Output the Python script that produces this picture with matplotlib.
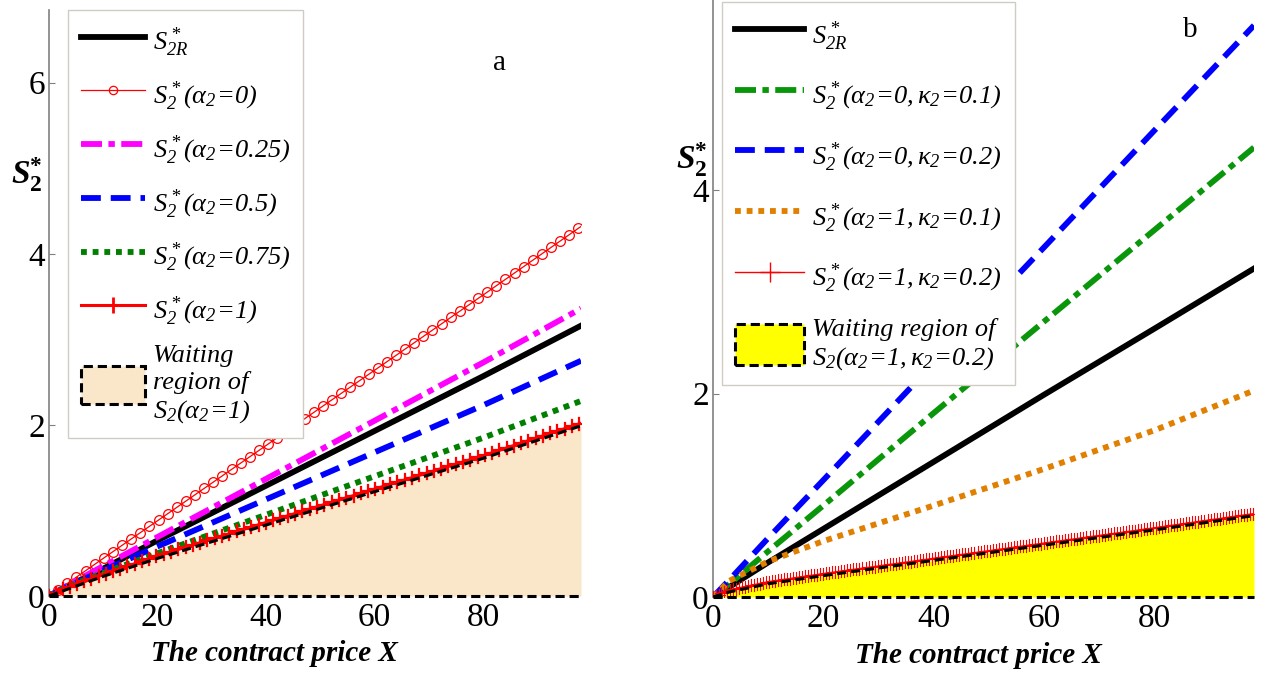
import numpy as np
import matplotlib
matplotlib.use("Agg")
import matplotlib.pyplot as plt
import matplotlib.patheffects as pe
from matplotlib.path import Path
from matplotlib.transforms import Affine2D, IdentityTransform
from matplotlib.lines import Line2D
from matplotlib.patches import Patch

plt.rcParams['font.family'] = ['Liberation Serif', 'DejaVu Serif']
plt.rcParams['mathtext.fontset'] = 'custom'
# legend maths is italic throughout (digits and brackets too)
plt.rcParams['mathtext.rm'] = 'Liberation Serif:italic'
plt.rcParams['mathtext.it'] = 'Liberation Serif:italic'
plt.rcParams['mathtext.bf'] = 'Liberation Serif:bold'
plt.rcParams['mathtext.bfit'] = 'Liberation Serif:bold:italic'

# ---- panel a data ----
x_a = [0, 3, 10, 20, 40, 60, 80, 98]
s2r_a = [0, 0.10, 0.32, 0.65, 1.29, 1.93, 2.57, 3.16]
alpha0_a = [0, 0.13, 0.44, 0.88, 1.76, 2.64, 3.52, 4.32]
alpha025_a = [0, 0.11, 0.35, 0.69, 1.37, 2.05, 2.73, 3.36]
alpha05_a = [0, 0.10, 0.30, 0.58, 1.13, 1.68, 2.23, 2.75]
alpha075_a = [0, 0.10, 0.27, 0.50, 0.95, 1.40, 1.85, 2.28]
alpha1_a = [0, 0.09, 0.25, 0.47, 0.86, 1.25, 1.64, 2.02]
wait_a = [0, 0.07, 0.23, 0.44, 0.83, 1.22, 1.61, 1.99]

# ---- panel b data ----
x_b = [0, 3, 10, 20, 40, 60, 80, 98]
s2r_b = [0, 0.10, 0.34, 0.67, 1.33, 1.99, 2.64, 3.23]
a0k01_b = [0, 0.13, 0.45, 0.90, 1.81, 2.71, 3.61, 4.42]
a0k02_b = [0, 0.17, 0.58, 1.15, 2.30, 3.44, 4.59, 5.62]
a1k01_b = [0, 0.16, 0.35, 0.55, 0.90, 1.26, 1.64, 2.03]
a1k02_b = [0, 0.07, 0.15, 0.23, 0.38, 0.53, 0.68, 0.82]
wait_b = [0, 0.05, 0.13, 0.21, 0.36, 0.51, 0.66, 0.80]

xticks = [0, 20, 40, 60, 80]


class MarkersAlong(pe.AbstractPathEffect):
    # draws markers at a fixed on-screen spacing along the drawn line
    def __init__(self, marker, spacing, size, color, lw):
        super().__init__()
        self.marker = marker
        self.spacing = spacing
        self.size = size
        self.color = color
        self.lw = lw

    def draw_path(self, renderer, gc, tpath, affine, rgbFace=None):
        xy = affine.transform(tpath.vertices)
        d = np.r_[0, np.cumsum(np.hypot(*np.diff(xy, axis=0).T))]
        step = renderer.points_to_pixels(self.spacing)
        s = np.arange(0, d[-1], step)
        pts = np.column_stack([np.interp(s, d, xy[:, 0]), np.interp(s, d, xy[:, 1])])
        gc0 = renderer.new_gc()
        gc0.copy_properties(gc)
        gc0.set_linewidth(self.lw)
        gc0.set_foreground(self.color)
        gc0.set_dashes(0, None)
        half = renderer.points_to_pixels(self.size) / 2
        renderer.draw_markers(gc0, self.marker, Affine2D().scale(half),
                              Path(pts), IdentityTransform(), None)
        gc0.restore()


circle = Path.unit_circle()
plus = Path([[-1, 0], [1, 0], [0, -1], [0, 1]], [1, 2, 1, 2])

fig = plt.figure(figsize=(12.61, 6.73), dpi=100)
ax1 = fig.add_axes([49 / 1261, 1 - 596 / 673, 532 / 1261, 586 / 673])
ax2 = fig.add_axes([713 / 1261, 1 - 597 / 673, 541 / 1261, 597 / 673])

GRAY = '#808080'
for ax in (ax1, ax2):
    for sp in ('top', 'right', 'bottom'):
        ax.spines[sp].set_visible(False)
    ax.spines['left'].set_color(GRAY)
    ax.spines['left'].set_linewidth(1.2)
    ax.tick_params(direction='in', length=4, color=GRAY, labelsize=24, width=0.8)
    ax.tick_params(axis='y', pad=3)
    ax.tick_params(axis='x', pad=5, length=0)
    ax.set_xticks(xticks)
    ax.set_xlim(0, 98)
    ax.set_xlabel('The contract price X', fontsize=21, fontweight='bold', style='italic')

# ---------------- panel a ----------------
ax1.set_ylim(0, 6.85)
ax1.set_yticks([0, 2, 4, 6])
ax1.fill_between(x_a, 0, wait_a, color='#FAE7CA', lw=0, zorder=1)
ax1.plot(x_a, s2r_a, color='black', lw=4.2, zorder=3)
ax1.plot(x_a, alpha0_a, color='red', lw=0.9, zorder=3,
         path_effects=[pe.Normal(), MarkersAlong(circle, 8.0, 7, 'red', 0.9)])
ax1.plot(x_a, alpha025_a, color='#FF00FF', lw=4.2, dashes=(3.6, 1.1, 1.1, 1.1), zorder=3)
ax1.plot(x_a, alpha05_a, color='#0000FF', lw=4.2, dashes=(3.4, 1.7), zorder=3)
ax1.plot(x_a, alpha075_a, color='#007F00', lw=4.2, dashes=(1, 1), dash_capstyle='butt', zorder=3)
ax1.plot(x_a, alpha1_a, color='red', lw=2.2, zorder=3,
         path_effects=[pe.Normal(), MarkersAlong(plus, 5.5, 9, 'red', 1.6)])
ax1.plot(x_a, wait_a, color='black', lw=2.2, dashes=(3, 1.6), zorder=4)
ax1.plot([x_a[0], x_a[-1]], [0, 0], color='black', lw=2.2, dashes=(3, 1.6), zorder=4, clip_on=False)
ax1.xaxis.set_label_coords(0.423, -0.075)

h1 = [
    Line2D([], [], color='black', lw=4.2),
    Line2D([], [], color='red', lw=0.9, marker='o', mfc='none', ms=6, mew=0.9),
    Line2D([], [], color='#FF00FF', lw=4.2, dashes=(3.6, 1.1, 1.1, 1.1)),
    Line2D([], [], color='#0000FF', lw=4.2, dashes=(3.4, 1.7)),
    Line2D([], [], color='#007F00', lw=4.2, dashes=(1, 1), dash_capstyle='butt'),
    Line2D([], [], color='red', lw=2.2, marker='+', ms=12, mew=2),
    Patch(facecolor='#FAE7CA', edgecolor='black', lw=2.2, linestyle=(0, (3, 1.6))),
]
l1 = [
    r'$S^*_{2R}$',
    r'$S^*_2(\alpha_2\!=\!0)$',
    r'$S^*_2(\alpha_2\!=\!0.25)$',
    r'$S^*_2(\alpha_2\!=\!0.5)$',
    r'$S^*_2(\alpha_2\!=\!0.75)$',
    r'$S^*_2(\alpha_2\!=\!1)$',
    'Waiting\nregion of\n' + r'$S_2(\alpha_2\!=\!1)$',
]
leg1 = ax1.legend(h1, l1, loc='upper left', bbox_to_anchor=(0.036, 1.0), borderaxespad=0,
                  prop={'family': 'Liberation Serif', 'style': 'italic', 'size': 19},
                  handlelength=2.4, handleheight=1.8, handletextpad=0.3, labelspacing=0.62,
                  fancybox=False, edgecolor='#D0CCC4', framealpha=1, borderpad=0.5, numpoints=1)
leg1.get_frame().set_linewidth(1.0)
ax1.text(499 / 1261, 1 - 63 / 673, 'a', transform=fig.transFigure, fontsize=21,
         ha='center', va='center', fontstyle='normal')

# ---------------- panel b ----------------
ax2.set_ylim(0, 5.87)
ax2.set_yticks([0, 2, 4])
ax2.fill_between(x_b, 0, wait_b, color='#FFFF00', lw=0, zorder=1)
ax2.plot(x_b, s2r_b, color='black', lw=4.2, zorder=3)
ax2.plot(x_b, a0k01_b, color='#0A960A', lw=4.2, dashes=(3.6, 1.1, 1.1, 1.1), zorder=3)
ax2.plot(x_b, a0k02_b, color='#0000FF', lw=4.2, dashes=(3.4, 1.7), zorder=3)
ax2.plot(x_b, a1k01_b, color='#E07F00', lw=4.2, dashes=(1, 1), dash_capstyle='butt', zorder=3)
ax2.plot(x_b, a1k02_b, color='red', lw=1.0, zorder=3,
         path_effects=[pe.Normal(), MarkersAlong(plus, 2.2, 9, 'red', 0.8)])
ax2.plot(x_b, wait_b, color='black', lw=2.2, dashes=(3, 1.6), zorder=4)
ax2.plot([x_b[0], x_b[-1]], [0, 0], color='black', lw=2.2, dashes=(3, 1.6), zorder=4, clip_on=False)
ax2.xaxis.set_label_coords(0.49, -0.075)

h2 = [
    Line2D([], [], color='black', lw=4.2),
    Line2D([], [], color='#0A960A', lw=4.2, dashes=(3.6, 1.1, 1.1, 1.1)),
    Line2D([], [], color='#0000FF', lw=4.2, dashes=(3.4, 1.7)),
    Line2D([], [], color='#E07F00', lw=4.2, dashes=(1, 1), dash_capstyle='butt'),
    Line2D([], [], color='red', lw=1.0, marker='+', ms=14, mew=1.0),
    Patch(facecolor='#FFFF00', edgecolor='black', lw=2.2, linestyle=(0, (3, 1.6))),
]
l2 = [
    r'$S^*_{2R}$',
    r'$S^*_2(\alpha_2\!=\!0, \kappa_2\!=\!0.1)$',
    r'$S^*_2(\alpha_2\!=\!0, \kappa_2\!=\!0.2)$',
    r'$S^*_2(\alpha_2\!=\!1, \kappa_2\!=\!0.1)$',
    r'$S^*_2(\alpha_2\!=\!1, \kappa_2\!=\!0.2)$',
    'Waiting region of\n' + r'$S_2(\alpha_2\!=\!1, \kappa_2\!=\!0.2)$',
]
leg2 = ax2.legend(h2, l2, loc='upper left', bbox_to_anchor=(0.017, 0.997), borderaxespad=0,
                  prop={'family': 'Liberation Serif', 'style': 'italic', 'size': 19},
                  handlelength=2.6, handleheight=2.0, handletextpad=0.3, labelspacing=0.75,
                  fancybox=False, edgecolor='#D0CCC4', framealpha=1, borderpad=0.5, numpoints=1)
leg2.get_frame().set_linewidth(1.0)
ax2.text(1190 / 1261, 1 - 30 / 673, 'b', transform=fig.transFigure, fontsize=21,
         ha='center', va='center')

# y labels
fig.text(27 / 1261, 1 - 175 / 673, r'$\mathbfit{S}^{\mathbf{*}}_{\mathbf{2}}$', fontsize=24,
         ha='center', va='center')
fig.text(692 / 1261, 1 - 160 / 673, r'$\mathbfit{S}^{\mathbf{*}}_{\mathbf{2}}$', fontsize=24,
         ha='center', va='center')

fig.savefig('out.png', dpi=100)
